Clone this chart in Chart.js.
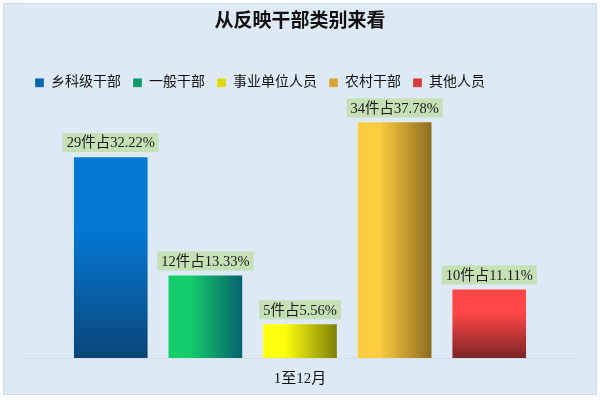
<!DOCTYPE html>
<html>
<head>
<meta charset="utf-8">
<script src="https://cdn.jsdelivr.net/npm/chart.js@4.4.1/dist/chart.umd.min.js"></script>
<style>
  html, body { margin: 0; padding: 0; background: #fff; }
  #wrap { width: 600px; height: 400px; }
</style>
</head>
<body>
<div id="wrap"><canvas id="chart"></canvas></div>
<script>
const categories = ['1至12月'];
const seriesNames = ['乡科级干部', '一般干部', '事业单位人员', '农村干部', '其他人员'];
const counts = [29, 12, 5, 34, 10];
const percents = ['32.22', '13.33', '5.56', '37.78', '11.11'];

// gradient stops per series: [direction, start, end]
const fills = [
  ['v', '#0479d6', '#0a4677'],
  ['h', '#14cc6a', '#06606f'],
  ['h', '#ffff10', '#7d7d05'],
  ['h', '#fccd3f', '#8b6a1f'],
  ['v', '#ff4646', '#7b2526']
];
const legendColors = ['#0566b4', '#0e9a6c', '#d8d80a', '#d7a636', '#d83a3a'];

const serif = "'Liberation Serif', 'DejaVu Serif', 'Noto Sans CJK SC', serif";

const bgPlugin = {
  id: 'bg',
  beforeDraw(chart) {
    const ctx = chart.ctx;
    ctx.save();
    ctx.fillStyle = '#dde9f5';
    ctx.fillRect(3, 3, 594, 392);
    ctx.strokeStyle = '#d3dde8';
    ctx.lineWidth = 1;
    ctx.strokeRect(3.5, 3.5, 593, 391);
    ctx.restore();
  }
};

const gradientPlugin = {
  id: 'barGradients',
  beforeDatasetsDraw(chart) {
    const ctx = chart.ctx;
    chart.data.datasets.forEach((ds, i) => {
      const meta = chart.getDatasetMeta(i);
      meta.data.forEach(bar => {
        const f = fills[i];
        const left = bar.x - bar.width / 2;
        let g;
        if (f[0] === 'v') g = ctx.createLinearGradient(0, bar.y, 0, bar.base);
        else g = ctx.createLinearGradient(left, 0, left + bar.width, 0);
        g.addColorStop(0, f[1]);
        g.addColorStop(f[0] === 'v' ? 0.35 : 0.3, f[1]);
        g.addColorStop(1, f[2]);
        bar.options.backgroundColor = g;
      });
    });
  }
};

const labelPlugin = {
  id: 'valueLabels',
  afterDatasetsDraw(chart) {
    const ctx = chart.ctx;
    ctx.save();
    ctx.font = '14.5px ' + serif;
    ctx.textAlign = 'center';
    ctx.textBaseline = 'middle';
    chart.data.datasets.forEach((ds, i) => {
      const meta = chart.getDatasetMeta(i);
      meta.data.forEach((bar, j) => {
        const text = ds.data[j] + '件占' + percents[i] + '%';
        const w = ctx.measureText(text).width + 8;
        const h = 19;
        const y = bar.y - 4 - h;
        ctx.fillStyle = '#c5e0b5';
        ctx.fillRect(bar.x - w / 2, y, w, h);
        ctx.fillStyle = '#1a1a1a';
        ctx.fillText(text, bar.x, y + h / 2 + 1);
      });
    });
    ctx.restore();
  }
};

const datasets = seriesNames.map((name, i) => ({
  label: name,
  data: [counts[i]],
  backgroundColor: legendColors[i],
  borderColor: 'rgba(255,255,255,0.25)',
  borderWidth: 1,
  barPercentage: 0.8,
  categoryPercentage: 0.854
}));

new Chart(document.getElementById('chart'), {
  type: 'bar',
  data: { labels: categories, datasets: datasets },
  options: {
    responsive: true,
    maintainAspectRatio: false,
    animation: false,
    layout: { padding: { left: 23, right: 23, top: 4, bottom: 0 } },
    plugins: {
      title: {
        display: true,
        text: '从反映干部类别来看',
        color: '#111',
        font: { family: serif, size: 19, weight: 'bold' },
        padding: { top: 7, bottom: 30 }
      },
      legend: {
        align: 'start',
        labels: {
          boxWidth: 9,
          boxHeight: 9,
          padding: 12,
          color: '#111',
          font: { family: serif, size: 14 }
        }
      },
      tooltip: { enabled: false }
    },
    scales: {
      x: {
        grid: { display: false, drawTicks: false },
        border: { color: '#d6dfe8', width: 1 },
        ticks: { color: '#111', padding: 12, font: { family: serif, size: 15 } }
      },
      y: {
        display: false,
        min: 0,
        max: 37.1
      }
    }
  },
  plugins: [bgPlugin, gradientPlugin, labelPlugin]
});
</script>
</body>
</html>
